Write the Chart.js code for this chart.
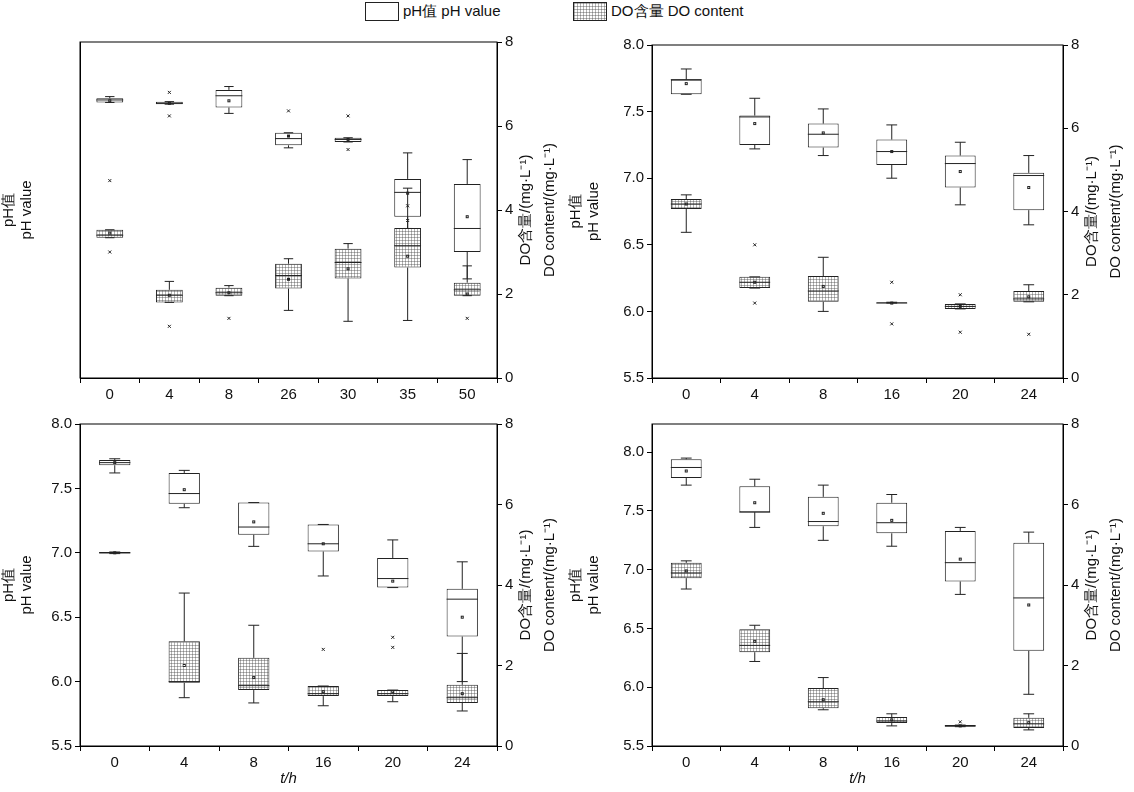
<!DOCTYPE html>
<html><head><meta charset="utf-8">
<script src="https://cdn.jsdelivr.net/npm/chart.js@4"></script>
<style>
body{margin:0;width:1134px;height:792px;background:#fff;font-family:"Liberation Sans",Arial,sans-serif;position:relative;overflow:hidden}
canvas{position:absolute}
.lg{position:absolute;top:2px;font-size:15px;color:#111;display:flex;align-items:center}
.sw{width:32px;height:17px;border:1px solid #222;margin-right:4px;background:#fff}
</style></head><body>
<div class="lg" style="left:365px"><div class="sw"></div>pH值 pH value</div>
<div class="lg" style="left:573px"><div class="sw" id="hsw"></div>DO含量 DO content</div>
<canvas id="c1" style="left:0;top:30px"></canvas>
<canvas id="c2" style="left:567px;top:30px"></canvas>
<canvas id="c3" style="left:0;top:405px"></canvas>
<canvas id="c4" style="left:567px;top:405px"></canvas>
<script>
// [min,q1,median,q3,max,mean]
const p1Cats=['0','4','8','26','30','35','50'];
const p1PH=[[7.78,7.78,7.81,7.83,7.85,7.8],[7.76,7.76,7.77,7.79,7.79,7.77],[7.65,7.72,7.86,7.93,7.97,7.8],[7.24,7.27,7.35,7.42,7.42,7.38],[7.31,7.31,7.34,7.36,7.36,7.34],[6.28,6.42,6.71,6.87,7.18,6.7],[5.68,6.0,6.28,6.81,7.1,6.42]];
const p1PHout=[[],[7.9,7.62],[],[7.68],[7.62,7.22],[],[]];
const p1DO=[[3.34,3.34,3.4,3.53,3.53,3.45],[1.8,1.8,1.97,2.1,2.3,1.97],[1.96,1.96,2.03,2.15,2.2,2.03],[1.61,2.13,2.44,2.72,2.84,2.35],[1.35,2.37,2.75,3.08,3.2,2.6],[1.37,2.63,3.15,3.57,4.52,2.9],[1.96,1.96,2.1,2.27,2.67,2.0]];
const p1DOout=[[4.7,3.0],[1.23],[1.42],[],[],[4.1,3.75],[1.42]];

const p2Cats=['0','4','8','16','20','24'];
const p2PH=[[7.63,7.63,7.74,7.74,7.82,7.71],[7.22,7.25,7.46,7.47,7.6,7.41],[7.17,7.23,7.33,7.41,7.52,7.34],[7.0,7.1,7.2,7.29,7.4,7.2],[6.8,6.93,7.11,7.17,7.27,7.05],[6.65,6.76,7.02,7.04,7.17,6.93]];
const p2PHout=[[],[],[],[],[],[]];
const p2DO=[[3.5,4.06,4.18,4.3,4.4,4.18],[2.16,2.16,2.3,2.43,2.43,2.3],[1.6,1.83,2.09,2.45,2.9,2.2],[1.8,1.8,1.8,1.82,1.82,1.8],[1.66,1.66,1.72,1.78,1.78,1.72],[1.83,1.83,1.9,2.09,2.24,1.95]];
const p2DOout=[[],[3.2,1.8],[],[2.3,1.3],[2.0,1.1],[1.05]];

const p3Cats=['0','4','8','16','20','24'];
const p3PH=[[7.62,7.68,7.7,7.72,7.73,7.7],[7.35,7.38,7.46,7.62,7.64,7.49],[7.05,7.14,7.2,7.39,7.39,7.24],[6.82,7.01,7.07,7.22,7.22,7.07],[6.73,6.73,6.8,6.96,7.1,6.78],[6.0,6.35,6.64,6.72,6.93,6.5]];
const p3PHout=[[],[],[],[],[],[]];
const p3DO=[[4.78,4.78,4.8,4.82,4.82,4.8],[1.2,1.57,1.6,2.6,3.8,2.0],[1.07,1.39,1.5,2.19,3.0,1.7],[1.0,1.24,1.3,1.49,1.49,1.35],[1.1,1.24,1.3,1.39,1.39,1.35],[0.87,1.07,1.2,1.52,2.3,1.3]];
const p3DOout=[[],[],[],[2.4],[2.7,2.45],[]];

const p4Cats=['0','4','8','16','20','24'];
const p4PH=[[7.72,7.78,7.87,7.94,7.95,7.84],[7.36,7.49,7.49,7.71,7.77,7.57],[7.25,7.37,7.41,7.62,7.72,7.48],[7.2,7.31,7.4,7.57,7.64,7.42],[6.79,6.9,7.06,7.33,7.36,7.09],[5.94,6.31,6.76,7.23,7.32,6.7]];
const p4PHout=[[],[],[],[],[],[]];
const p4DO=[[3.9,4.17,4.3,4.55,4.6,4.35],[2.1,2.33,2.5,2.9,3.0,2.6],[0.9,0.94,1.1,1.44,1.7,1.15],[0.5,0.57,0.62,0.72,0.8,0.65],[0.48,0.48,0.5,0.52,0.52,0.5],[0.4,0.45,0.55,0.7,0.8,0.58]];
const p4DOout=[[],[],[],[],[0.6],[]];
const doTitle=['DO含量/(mg·L⁻¹)','DO content/(mg·L⁻¹)'];

function makePattern(){
  const c=document.createElement('canvas');c.width=3;c.height=3;
  const g=c.getContext('2d');g.fillStyle='#fff';g.fillRect(0,0,3,3);
  g.fillStyle='#b5b5b5';g.fillRect(0,0,3,1);g.fillRect(0,0,1,3);
  g.fillStyle='#888';g.fillRect(0,0,1,1);
  return c;
}
const patC=makePattern();
document.getElementById('hsw').style.background='url('+patC.toDataURL()+')';

const boxPlugin={id:'boxes',afterDatasetsDraw(ch){
  const g=ch.ctx,xs=ch.scales.x,a=ch.chartArea,o=ch.options.plugins.boxes;
  g.save();g.strokeStyle='#222';g.lineWidth=1;
  const hw=xs.width/o.cats*0.45/2;
  [['y',o.ph,o.phOut],['y2',o.doo,o.doOut]].forEach(([ax,arr,out])=>{
    const ys=ch.scales[ax];
    arr.forEach((d,i)=>{
      const x=xs.getPixelForValue(i);
      const P=v=>ys.getPixelForValue(v);
      g.beginPath();
      g.moveTo(x,P(d[3]));g.lineTo(x,P(d[4]));
      g.moveTo(x,P(d[1]));g.lineTo(x,P(d[0]));
      g.moveTo(x-hw*0.35,P(d[4]));g.lineTo(x+hw*0.35,P(d[4]));
      g.moveTo(x-hw*0.35,P(d[0]));g.lineTo(x+hw*0.35,P(d[0]));
      g.moveTo(x-hw,P(d[2]));g.lineTo(x+hw,P(d[2]));
      g.stroke();
      g.strokeRect(x-1,P(d[5])-1,2,2);
      out[i].forEach(v=>{const y=P(v);g.beginPath();g.moveTo(x-1.5,y-1.5);g.lineTo(x+1.5,y+1.5);g.moveTo(x+1.5,y-1.5);g.lineTo(x-1.5,y+1.5);g.stroke();});
    });
  });
  g.strokeStyle='#000';g.strokeRect(a.left,a.top,a.right-a.left,a.bottom-a.top);
  // right axis title, reading bottom-to-top
  g.fillStyle='#111';g.font='15px "Liberation Sans",Arial,sans-serif';g.textAlign='center';g.textBaseline='middle';
  const cy=(a.top+a.bottom)/2;
  [[doTitle[0],29],[doTitle[1],53]].forEach(([t,dx])=>{g.save();g.translate(a.right+dx,cy);g.rotate(-Math.PI/2);g.fillText(t,0,0);g.restore();});
  g.restore();
}};

function build(id,w,h,cats,ph,phOut,doo,doOut,phMin,phMax,phStep,L,R,T,B,xTitle){
  const cv=document.getElementById(id);cv.width=w;cv.height=h;cv.style.width=w+'px';cv.style.height=h+'px';
  const pat=cv.getContext('2d').createPattern(patC,'repeat');
  const tf={family:'"Liberation Sans",Arial,sans-serif',size:15};
  return new Chart(cv,{type:'bar',
    data:{labels:cats,datasets:[
      {data:doo.map(d=>[d[1],d[3]]),yAxisID:'y2',backgroundColor:pat,borderColor:'#222',borderWidth:1,borderSkipped:false,grouped:false,barPercentage:0.45,categoryPercentage:1},
      {data:ph.map(d=>[d[1],d[3]]),yAxisID:'y',backgroundColor:'#fff',borderColor:'#222',borderWidth:1,borderSkipped:false,grouped:false,barPercentage:0.45,categoryPercentage:1}
    ]},
    options:{responsive:false,animation:false,layout:{padding:{top:T}},
      plugins:{legend:{display:false},tooltip:{enabled:false},boxes:{cats:cats.length,ph,phOut,doo,doOut}},
      scales:{
        x:{grid:{drawOnChartArea:false,tickLength:5,color:'#000'},border:{color:'#000'},ticks:{color:'#111',font:tf},
          title:{display:!!xTitle,text:'t/h',color:'#111',font:{...tf,style:'italic'},padding:{top:2}},
          afterFit(s){s.height=B;}},
        y:{position:'left',min:phMin,max:phMax,grid:{drawOnChartArea:false,tickLength:5,color:'#000'},border:{color:'#000'},
          afterBuildTicks(s){s.ticks=s.ticks.filter(t=>Math.abs(t.value/phStep-Math.round(t.value/phStep))<1e-6);},
          ticks:{stepSize:phStep,color:'#111',font:tf,callback:v=>v.toFixed(1)},
          title:{display:true,text:['pH值','pH value'],color:'#111',font:tf,padding:0},afterFit(s){s.width=L;}},
        y2:{position:'right',min:0,max:8,grid:{drawOnChartArea:false,tickLength:5,color:'#000'},border:{color:'#000'},
          ticks:{stepSize:2,color:'#111',font:tf},
          title:{display:false},afterFit(s){s.width=R;}}
      }},plugins:[boxPlugin]});
}
build('c1',567,375,p1Cats,p1PH,p1PHout,p1DO,p1DOout,4.5,8.5,1,80,70,10,27,false);
build('c2',567,375,p2Cats,p2PH,p2PHout,p2DO,p2DOout,5.5,8.0,0.5,85,71,15,27,false);
build('c3',567,387,p3Cats,p3PH,p3PHout,p3DO,p3DOout,5.5,8.0,0.5,80,70,19,46,true);
build('c4',567,387,p4Cats,p4PH,p4PHout,p4DO,p4DOout,5.5,8.24,0.5,85,71,19,46,true);
</script></body></html>
